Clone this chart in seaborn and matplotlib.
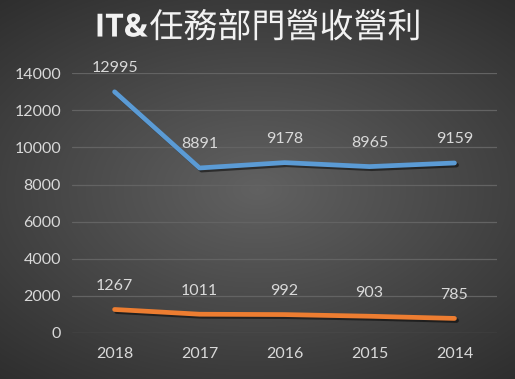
import numpy as np
import pandas as pd
import matplotlib
matplotlib.use('Agg')
import matplotlib.pyplot as plt
import matplotlib.patheffects as pe
import seaborn as sns

# du lieu
years = ['2018', '2017', '2016', '2015', '2014']
revenue = [12995, 8891, 9178, 8965, 9159]
profit = [1267, 1011, 992, 903, 785]

df = pd.DataFrame({'year': years * 2,
                   'value': revenue + profit,
                   'kind': ['營收'] * 5 + ['營利'] * 5})

sns.set_style('dark')
plt.rcParams['font.family'] = ['Lato', 'Noto Sans CJK TC', 'DejaVu Sans']

fig = plt.figure(figsize=(5.15, 3.79), dpi=100)

# nen gradient tron
bg = fig.add_axes([0, 0, 1, 1], zorder=0)
yy, xx = np.mgrid[-1:1:379j, -1:1:515j]
r = np.sqrt((xx * 0.85) ** 2 + (yy * 1.0) ** 2)
bg.imshow(np.clip(r, 0, 1.4), cmap=matplotlib.colors.LinearSegmentedColormap.from_list(
    'g', ['#616161', '#2b2b2b']), aspect='auto', vmin=0, vmax=1.4)
bg.axis('off')

ax = fig.add_axes([0.140, 0.1214, 0.825, 0.6856], zorder=1)
ax.set_facecolor('none')

shadow = [pe.SimpleLineShadow(offset=(1.5, -1.5), shadow_color='black', alpha=0.5), pe.Normal()]
sns.lineplot(data=df, x='year', y='value', hue='kind', sort=False,
             palette=['#5b9bd5', '#ed7d31'], linewidth=3.4, legend=False, ax=ax,
             path_effects=shadow)
for line in ax.lines:
    line.set_solid_capstyle('round')
    line.set_solid_joinstyle('round')

for vals in (revenue, profit):
    for i, v in enumerate(vals):
        ax.annotate(str(v), (i, v), xytext=(0, 17), textcoords='offset points',
                    ha='center', va='center', color='#d9d9d9', fontsize=11.5)

ax.set_xlim(-0.5, 4.5)
ax.set_ylim(0, 14000)
ax.set_yticks(range(0, 14001, 2000))
ax.grid(axis='y', color='#636363', linewidth=0.9)
ax.grid(axis='x', visible=False)
for s in ax.spines.values():
    s.set_visible(False)
ax.tick_params(colors='#d9d9d9', labelsize=11.5, length=0, pad=8)
ax.tick_params(axis='x', pad=10)
ax.set_xlabel('')
ax.set_ylabel('')

# tieu de: "IT&" dam + chu Han mong
fig.text(0.287, 0.926, 'IT&', ha='right', va='center', color='#f2f2f2',
         fontsize=23, fontweight='bold', family=['Open Sans', 'DejaVu Sans'],
         path_effects=[pe.SimpleLineShadow(), pe.Normal()])
fig.text(0.290, 0.926, '任務部門營收營利', ha='left', va='center', color='#f2f2f2',
         fontsize=24.5, family=['Noto Sans CJK TC'], fontweight='light',
         path_effects=[pe.SimpleLineShadow(), pe.Normal()])

fig.savefig('out.png', dpi=100)
